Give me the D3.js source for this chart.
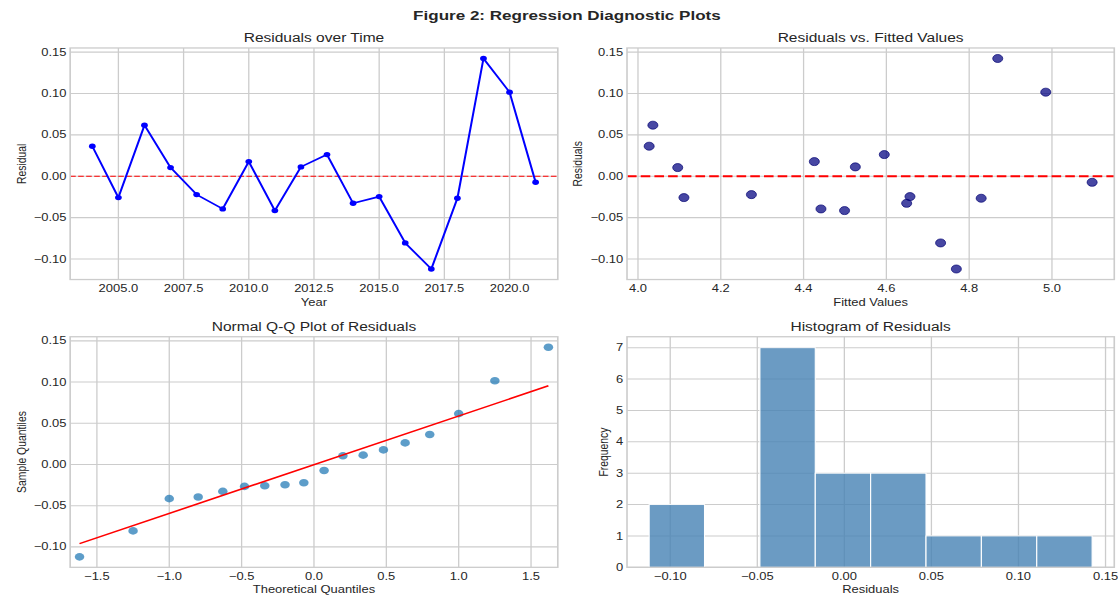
<!DOCTYPE html>
<html><head><meta charset="utf-8">
<script src="https://cdn.jsdelivr.net/npm/d3@7"></script>
<style>
body{margin:0;background:#fff}
svg{display:block}
text{font-family:"Liberation Sans",Arial,sans-serif;fill:#262626}
</style>
</head><body>
<svg id="chart" width="1118" height="596"></svg>
<script>
// ---------- data ----------
const years = [2004,2005,2006,2007,2008,2009,2010,2011,2012,2013,2014,2015,2016,2017,2018,2019,2020,2021];
const residuals = [0.0363,-0.0258,0.0617,0.0105,-0.0222,-0.0395,0.0177,-0.0415,0.0113,0.0262,-0.0327,-0.0246,-0.0806,-0.1121,-0.0266,0.1423,0.1016,-0.0073];
const fittedValues = [4.027,4.111,4.036,4.096,4.274,4.442,4.426,4.499,4.525,4.595,4.649,4.657,4.731,4.769,4.829,4.869,4.985,5.097];
const theoreticalQuantiles = [-1.62,-1.25,-1.00,-0.80,-0.63,-0.48,-0.34,-0.20,-0.07,0.07,0.20,0.34,0.48,0.63,0.80,1.00,1.25,1.62];
const residualTicks = [-0.10,-0.05,0.00,0.05,0.10,0.15];
const yearTicks = [2005,2007.5,2010,2012.5,2015,2017.5,2020];
const fittedTicks = [4.0,4.2,4.4,4.6,4.8,5.0];
const quantileTicks = [-1.5,-1.0,-0.5,0.0,0.5,1.0,1.5];
const histXTicks = [-0.10,-0.05,0.00,0.05,0.10,0.15];
const freqTicks = [0,1,2,3,4,5,6,7];
const histBinCount = 8;
const figTitle = "Figure 2: Regression Diagnostic Plots";

// ---------- layout (figure drawn at 1200x800 and scaled to the window) ----------
const svg = d3.select("#chart");
const root = svg.append("g").attr("transform", "scale(" + (1118/1200) + "," + (596/800) + ")");
const GRID = "#cccccc", TICK_FS = 13.9, LABEL_FS = 13.9, TITLE_FS = 16.67;

function pad(ext, m) { const d = (ext[1]-ext[0])*m; return [ext[0]-d, ext[1]+d]; }

function panel(o) {
  const g = root.append("g");
  const x = d3.scaleLinear().domain(o.xDomain).range([o.x0, o.x1]);
  const y = d3.scaleLinear().domain(o.yDomain).range([o.y1, o.y0]);
  g.append("g").selectAll("line").data(o.xTicks).join("line")
    .attr("x1", d => x(d)).attr("x2", d => x(d)).attr("y1", o.y0).attr("y2", o.y1)
    .attr("stroke", GRID).attr("stroke-width", 1.39);
  g.append("g").selectAll("line").data(o.yTicks).join("line")
    .attr("y1", d => y(d)).attr("y2", d => y(d)).attr("x1", o.x0).attr("x2", o.x1)
    .attr("stroke", GRID).attr("stroke-width", 1.39);
  g.append("g").selectAll("text").data(o.xTicks).join("text")
    .attr("x", d => x(d)).attr("y", o.y1 + 16.5).attr("text-anchor", "middle")
    .attr("font-size", TICK_FS).text(o.xFmt);
  g.append("g").selectAll("text").data(o.yTicks).join("text")
    .attr("x", o.x0 - 4).attr("y", d => y(d)).attr("dy", "0.35em").attr("text-anchor", "end")
    .attr("font-size", TICK_FS).text(o.yFmt);
  g.append("text").attr("x", (o.x0+o.x1)/2).attr("y", o.y0 - 7.5).attr("text-anchor", "middle")
    .attr("font-size", TITLE_FS).text(o.title);
  g.append("text").attr("x", (o.x0+o.x1)/2).attr("y", o.y1 + 35).attr("text-anchor", "middle")
    .attr("font-size", LABEL_FS).text(o.xLabel);
  g.append("text").attr("transform", "translate(" + o.yLabelX + "," + ((o.y0+o.y1)/2) + ") rotate(-90)")
    .attr("text-anchor", "middle").attr("font-size", LABEL_FS).text(o.yLabel);
  const data = g.append("g");
  const frame = () => g.append("rect").attr("x", o.x0).attr("y", o.y0)
    .attr("width", o.x1 - o.x0).attr("height", o.y1 - o.y0)
    .attr("fill", "none").attr("stroke", GRID).attr("stroke-width", 1.74);
  return {g: data, x, y, frame, o};
}

const f2 = d3.format(".2f"), f1 = d3.format(".1f"), f0 = d3.format("d");
const resExt = d3.extent(residuals);
const resDomain = pad(resExt, 0.05);
const colL = [75.3, 598.7], colR = [673, 1196], rowT = [64.4, 375.2], rowB = [452, 761.5];

// ---------- suptitle ----------
root.append("text").attr("x", 608.5).attr("y", 26.8).attr("text-anchor", "middle")
  .attr("font-size", 18.3).attr("font-weight", "bold").text(figTitle);

// ---------- 1: residuals over time ----------
{
  const p = panel({x0: colL[0], x1: colL[1], y0: rowT[0], y1: rowT[1],
    xDomain: pad(d3.extent(years), 0.05), yDomain: resDomain,
    xTicks: yearTicks, yTicks: residualTicks, xFmt: f1, yFmt: f2,
    title: "Residuals over Time", xLabel: "Year", yLabel: "Residual", yLabelX: 28});
  p.g.append("line").attr("x1", p.o.x0).attr("x2", p.o.x1).attr("y1", p.y(0)).attr("y2", p.y(0))
    .attr("stroke", "#ff0000").attr("stroke-width", 1.4).attr("stroke-dasharray", "6,2.6");
  const pts = years.map((yr, i) => [yr, residuals[i]]);
  p.g.append("path").datum(pts)
    .attr("d", d3.line().x(d => p.x(d[0])).y(d => p.y(d[1])))
    .attr("fill", "none").attr("stroke", "#0000ff").attr("stroke-width", 2.2).attr("stroke-linejoin", "round");
  p.g.selectAll("circle").data(pts).join("circle")
    .attr("cx", d => p.x(d[0])).attr("cy", d => p.y(d[1])).attr("r", 3.6).attr("fill", "#0000ff");
  p.frame();
}

// ---------- 2: residuals vs fitted ----------
{
  const p = panel({x0: colR[0], x1: colR[1], y0: rowT[0], y1: rowT[1],
    xDomain: pad(d3.extent(fittedValues), 0.05), yDomain: resDomain,
    xTicks: fittedTicks, yTicks: residualTicks, xFmt: f1, yFmt: f2,
    title: "Residuals vs. Fitted Values", xLabel: "Fitted Values", yLabel: "Residuals", yLabelX: 625});
  p.g.append("line").attr("x1", p.o.x0).attr("x2", p.o.x1).attr("y1", p.y(0)).attr("y2", p.y(0))
    .attr("stroke", "#ff0000").attr("stroke-width", 2.78).attr("stroke-dasharray", "10.3,4.4");
  p.g.selectAll("circle").data(fittedValues).join("circle")
    .attr("cx", d => p.x(d)).attr("cy", (d, i) => p.y(residuals[i])).attr("r", 5.4)
    .attr("fill", "#000080").attr("fill-opacity", 0.72)
    .attr("stroke", "#000070").attr("stroke-opacity", 0.8).attr("stroke-width", 1);
  p.frame();
}

// ---------- 3: Q-Q plot ----------
{
  const sorted = residuals.slice().sort(d3.ascending);
  const qExt = d3.extent(theoreticalQuantiles);
  const p = panel({x0: colL[0], x1: colL[1], y0: rowB[0], y1: rowB[1],
    xDomain: pad(qExt, 0.02), yDomain: resDomain,
    xTicks: quantileTicks, yTicks: residualTicks, xFmt: f1, yFmt: f2,
    title: "Normal Q-Q Plot of Residuals", xLabel: "Theoretical Quantiles", yLabel: "Sample Quantiles", yLabelX: 27.5});
  p.g.selectAll("circle").data(theoreticalQuantiles).join("circle")
    .attr("cx", d => p.x(d)).attr("cy", (d, i) => p.y(sorted[i])).attr("r", 5.1)
    .attr("fill", "#1f77b4").attr("fill-opacity", 0.72);
  const mean = d3.mean(residuals);
  const sd = Math.sqrt(d3.mean(residuals, v => (v - mean) * (v - mean)));
  p.g.append("path").datum(qExt)
    .attr("d", d3.line().x(d => p.x(d)).y(d => p.y(mean + sd * d)))
    .attr("fill", "none").attr("stroke", "#ff0000").attr("stroke-width", 2.1);
  p.frame();
}

// ---------- 4: histogram ----------
{
  const step = (resExt[1] - resExt[0]) / histBinCount;
  const thresholds = d3.range(1, histBinCount).map(i => resExt[0] + i * step);
  const bins = d3.bin().domain(resExt).thresholds(thresholds)(residuals);
  const p = panel({x0: colR[0], x1: colR[1], y0: rowB[0], y1: rowB[1],
    xDomain: resDomain, yDomain: [0, d3.max(bins, b => b.length) * 1.05],
    xTicks: histXTicks, yTicks: freqTicks, xFmt: f2, yFmt: f0,
    title: "Histogram of Residuals", xLabel: "Residuals", yLabel: "Frequency", yLabelX: 652.5});
  p.g.selectAll("rect").data(bins.filter(b => b.length > 0)).join("rect")
    .attr("x", b => p.x(b.x0)).attr("width", b => p.x(b.x1) - p.x(b.x0))
    .attr("y", b => p.y(b.length)).attr("height", b => p.y(0) - p.y(b.length))
    .attr("fill", "#4682b4").attr("fill-opacity", 0.8)
    .attr("stroke", "#ffffff").attr("stroke-width", 1.2);
  p.frame();
}
</script>
</body></html>
